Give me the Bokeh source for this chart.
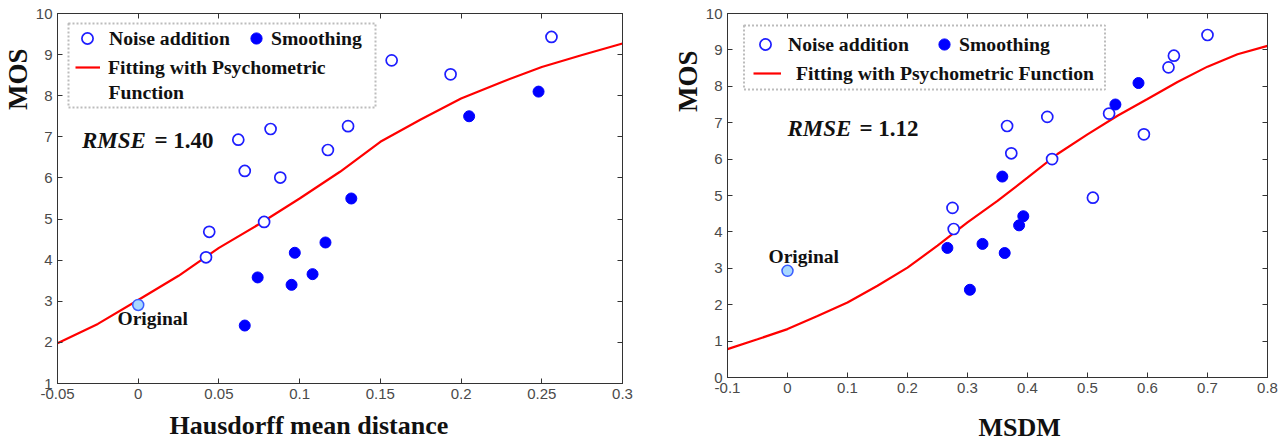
from bokeh.plotting import figure
from bokeh.models import (Range1d, FixedTicker, LinearAxis, Label, Legend,
                          LegendItem, BoxAnnotation, Title)
from bokeh.layouts import row, column
from bokeh.embed import file_html
from bokeh.resources import INLINE

# ---------------- Left panel: Hausdorff mean distance ----------------
hd_noise_x = [0.042, 0.044, 0.062, 0.066, 0.078, 0.082, 0.088, 0.1175, 0.130, 0.157, 0.1935, 0.256]
hd_noise_y = [4.07, 4.69, 6.93, 6.17, 4.93, 7.19, 6.01, 6.68, 7.26, 8.86, 8.52, 9.43]
hd_smooth_x = [0.066, 0.074, 0.095, 0.097, 0.108, 0.116, 0.132, 0.205, 0.248]
hd_smooth_y = [2.41, 3.58, 3.40, 4.18, 3.66, 4.43, 5.50, 7.50, 8.10]
hd_orig_x = [0.0]
hd_orig_y = [2.91]
hd_fit_x = [-0.05, -0.025, 0.0, 0.025, 0.05, 0.075, 0.1, 0.125, 0.15, 0.175, 0.2, 0.225, 0.25, 0.275, 0.3]
hd_fit_y = [1.98, 2.45, 3.03, 3.62, 4.30, 4.88, 5.50, 6.15, 6.88, 7.42, 7.93, 8.33, 8.70, 8.99, 9.27]
hd_xticks = [-0.05, 0.0, 0.05, 0.1, 0.15, 0.2, 0.25, 0.3]
hd_xtick_labels = ["-0.05", "0", "0.05", "0.1", "0.15", "0.2", "0.25", "0.3"]
hd_yticks = [1, 2, 3, 4, 5, 6, 7, 8, 9, 10]
hd_ytick_labels = ["1", "2", "3", "4", "5", "6", "7", "8", "9", "10"]

# ---------------- Right panel: MSDM ----------------
ms_noise_x = [0.275, 0.277, 0.366, 0.373, 0.433, 0.441, 0.509, 0.536, 0.594, 0.635, 0.644, 0.700]
ms_noise_y = [4.66, 4.08, 6.91, 6.16, 7.16, 6.00, 4.94, 7.25, 6.68, 8.52, 8.84, 9.41]
ms_smooth_x = [0.2665, 0.304, 0.325, 0.358, 0.362, 0.386, 0.393, 0.5465, 0.585]
ms_smooth_y = [3.56, 2.41, 3.67, 5.52, 3.42, 4.18, 4.43, 7.50, 8.09]
ms_orig_x = [0.0]
ms_orig_y = [2.93]
ms_fit_x = [-0.1, -0.05, 0.0, 0.05, 0.1, 0.15, 0.2, 0.25, 0.3, 0.35, 0.4, 0.45, 0.5, 0.55, 0.6, 0.65, 0.7, 0.75, 0.8]
ms_fit_y = [0.78, 1.05, 1.33, 1.69, 2.06, 2.52, 3.02, 3.62, 4.26, 4.85, 5.49, 6.14, 6.68, 7.19, 7.65, 8.12, 8.54, 8.88, 9.11]
ms_xticks = [-0.1, 0.0, 0.1, 0.2, 0.3, 0.4, 0.5, 0.6, 0.7, 0.8]
ms_xtick_labels = ["-0.1", "0", "0.1", "0.2", "0.3", "0.4", "0.5", "0.6", "0.7", "0.8"]
ms_yticks = [0, 1, 2, 3, 4, 5, 6, 7, 8, 9, 10]
ms_ytick_labels = ["0", "1", "2", "3", "4", "5", "6", "7", "8", "9", "10"]

SERIF = "Liberation Serif"
SANS = "Liberation Sans"
BLUE = "#0000ff"
RED = "#ff0000"


def style_axis(ax, ticks, labels, show_labels=True):
    ax.ticker = FixedTicker(ticks=ticks)
    ax.major_tick_in = 5
    ax.major_tick_out = 0
    ax.minor_tick_line_color = None
    ax.major_tick_line_color = "#333333"
    ax.axis_line_color = "#333333"
    ax.major_label_text_font = SANS
    ax.major_label_text_color = "#4a4a4a"
    if show_labels:
        ax.major_label_overrides = {t: l for t, l in zip(ticks, labels)}
        ax.major_label_text_font_size = "15px"
        ax.major_label_standoff = 5
    else:
        ax.major_label_overrides = {t: "" for t in ticks}
        ax.major_label_text_font_size = "1px"
        ax.major_label_standoff = 0


def make_panel(cfg):
    p = figure(width=cfg["width"], height=cfg["height"],
               x_range=Range1d(*cfg["xr"]), y_range=Range1d(*cfg["yr"]),
               output_backend="svg", toolbar_location=None,
               min_border_left=cfg["bl"], min_border_right=cfg["br"],
               min_border_top=cfg["bt"], min_border_bottom=cfg["bb"])
    p.xgrid.visible = False
    p.ygrid.visible = False
    p.outline_line_color = "#333333"
    p.outline_line_width = 1
    p.background_fill_color = "white"
    p.border_fill_color = "white"

    style_axis(p.xaxis[0], cfg["xticks"], cfg["xlabels"])
    style_axis(p.yaxis[0], cfg["yticks"], cfg["ylabels"])
    top = LinearAxis()
    style_axis(top, cfg["xticks"], cfg["xlabels"], show_labels=False)
    p.add_layout(top, "above")
    right = LinearAxis()
    style_axis(right, cfg["yticks"], cfg["ylabels"], show_labels=False)
    p.add_layout(right, "right")

    # invisible spacer below the tick labels (its ticks are invisible)
    spacer = LinearAxis()
    style_axis(spacer, cfg["xticks"], cfg["xlabels"], show_labels=False)
    spacer.axis_line_color = None
    spacer.major_tick_line_color = None
    spacer.major_tick_in = 0
    spacer.major_tick_out = cfg["spacer"]
    p.add_layout(spacer, "below")

    # axis titles as side titles (so they can be offset like the reference)
    xt, xsize, xoff, xstand = cfg["xtitle"]
    p.add_layout(Title(text=xt, text_font=SERIF, text_font_style="bold",
                       text_font_size=xsize, text_color="#111111",
                       align="left", offset=xoff, standoff=xstand), "below")
    yt, ysize, yoff = cfg["ytitle"]
    p.add_layout(Title(text=yt, text_font=SERIF, text_font_style="bold",
                       text_font_size=ysize, text_color="#111111",
                       align="right", offset=yoff, standoff=0), "left")

    fit = p.line(cfg["fit_x"], cfg["fit_y"], line_color=RED, line_width=2.2)
    noise = p.scatter(cfg["noise_x"], cfg["noise_y"], marker="circle", size=11,
                      fill_color="white", line_color="#1e1eff", line_width=1.7)
    smooth = p.scatter(cfg["smooth_x"], cfg["smooth_y"], marker="circle", size=11,
                       fill_color=BLUE, line_color=BLUE, line_width=1)
    p.scatter(cfg["orig_x"], cfg["orig_y"], marker="circle", size=11,
              fill_color="#a8d8ff", line_color="#3a5cff", line_width=1.5)

    # legend frame
    L, R, T, B = cfg["box"]
    p.add_layout(BoxAnnotation(left=L, right=R, top=T, bottom=B,
                               left_units="screen", right_units="screen",
                               top_units="screen", bottom_units="screen",
                               fill_color="white", fill_alpha=1.0,
                               line_color="#222222", line_width=2,
                               line_dash="2 2"))

    def one_legend(label, rend, loc, gw, gh, standoff):
        lg = Legend(items=[LegendItem(label=label, renderers=[rend])],
                    location=loc, orientation="vertical",
                    glyph_width=gw, glyph_height=gh, label_height=gh,
                    label_standoff=standoff, padding=0, margin=0, spacing=0,
                    border_line_color=None, background_fill_alpha=0,
                    label_text_font=SERIF, label_text_font_style="bold",
                    label_text_font_size="19.7px", label_text_color="#111111")
        p.add_layout(lg)

    for (lab, key, loc, gw, gh, so) in cfg["legends"]:
        rend = {"noise": noise, "smooth": smooth, "fit": fit}[key]
        one_legend(lab, rend, loc, gw, gh, so)

    for (txt, x, y, style, size) in cfg["texts"]:
        p.add_layout(Label(x=x, y=y, x_units="screen", y_units="screen",
                           text=txt, text_font=SERIF, text_font_style=style,
                           text_font_size=size, text_align="left",
                           text_baseline="middle", text_color="#111111"))
    return p


left_cfg = dict(
    width=670, height=441, bl=56, br=48, bt=13, bb=58,
    xr=(-0.05, 0.3), yr=(1, 10),
    xticks=hd_xticks, xlabels=hd_xtick_labels,
    yticks=hd_yticks, ylabels=hd_ytick_labels,
    fit_x=hd_fit_x, fit_y=hd_fit_y,
    noise_x=hd_noise_x, noise_y=hd_noise_y,
    smooth_x=hd_smooth_x, smooth_y=hd_smooth_y,
    orig_x=hd_orig_x, orig_y=hd_orig_y,
    box=(11, 318, 360, 276),
    legends=[
        ("Noise addition", "noise", (16, 331), 28, 28, 8),
        ("Smoothing", "smooth", (185, 331), 28, 28, 1),
        ("Fitting with Psychometric", "fit", (18, 302), 25, 28, 8),
    ],
    texts=[
        ("Function", 51, 292, "bold", "19.7px"),
        ("RMSE", 24.5, 243, "bold italic", "23px"),
        ("= 1.40", 97, 243, "bold", "23px"),
        ("Original", 60, 65, "bold", "19.5px"),
    ],
    spacer=7,
    xtitle=("Hausdorff mean distance", "26px", 112, 0),
    ytitle=("MOS", "27px", 35),
)

right_cfg = dict(
    width=617, height=441, bl=52, br=20, bt=13, bb=64,
    xr=(-0.1, 0.8), yr=(0, 10),
    xticks=ms_xticks, xlabels=ms_xtick_labels,
    yticks=ms_yticks, ylabels=ms_ytick_labels,
    fit_x=ms_fit_x, fit_y=ms_fit_y,
    noise_x=ms_noise_x, noise_y=ms_noise_y,
    smooth_x=ms_smooth_x, smooth_y=ms_smooth_y,
    orig_x=ms_orig_x, orig_y=ms_orig_y,
    box=(16.5, 377.5, 352, 288),
    legends=[
        ("Noise addition", "noise", (24, 319), 28, 28, 9),
        ("Smoothing", "smooth", (203, 319), 28, 28, 1),
        ("Fitting with Psychometric Function", "fit", (26, 290), 28, 28, 15),
    ],
    texts=[
        ("RMSE", 60, 249, "bold italic", "23px"),
        ("= 1.12", 132, 249, "bold", "23px"),
        ("Original", 41, 121, "bold", "19.5px"),
    ],
    spacer=15,
    xtitle=("MSDM", "26px", 251, 0),
    ytitle=("MOS", "27px", 37),
)

p1 = make_panel(left_cfg)
p2 = make_panel(right_cfg)
layout = row(column(p1), column(p2))

open("out.html", "w").write(file_html(layout, INLINE))
